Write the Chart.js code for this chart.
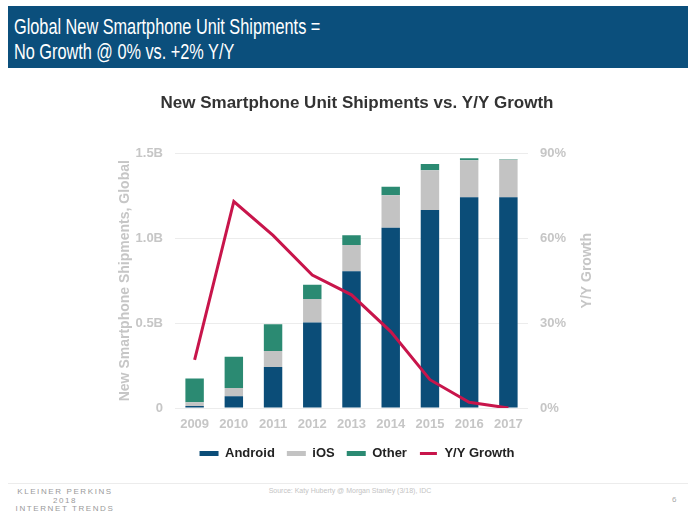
<!DOCTYPE html>
<html>
<head>
<meta charset="utf-8">
<script src="https://cdn.jsdelivr.net/npm/chart.js@4"></script>
<style>
  html, body { margin: 0; padding: 0; background: #fff; }
  body { width: 700px; height: 525px; position: relative; overflow: hidden; font-family: Arial, "Liberation Sans", sans-serif; }
  #banner { position: absolute; left: 8px; top: 6px; width: 680px; height: 62px; background: #0b4f7c; }
  #banner div { position: absolute; left: 6px; color: #fff; font-family: Arial, "Liberation Sans", sans-serif;
                font-size: 22px; line-height: 25px; white-space: nowrap; transform: scaleX(0.74); transform-origin: left center; }
  #wrap { position: absolute; left: 0; top: 80px; width: 700px; height: 390px; }
  #footline { position: absolute; left: 8px; top: 483px; width: 680px; height: 1px; background: #ececec; }
  .brand { position: absolute; color: #9a9a9a; font-size: 8px; letter-spacing: 1.6px; text-align: center; width: 110px; left: 10px; }
  #source { position: absolute; left: 0; width: 700px; top: 487px; text-align: center; color: #c4c4c4; font-size: 7px; }
  #page { position: absolute; left: 672px; top: 495px; color: #aaa; font-size: 8px; }
</style>
</head>
<body>
<div id="banner">
  <div style="top:8px">Global New Smartphone Unit Shipments =</div>
  <div style="top:33px">No Growth @ 0% vs. +2% Y/Y</div>
</div>
<div id="wrap"><canvas id="chart" width="700" height="390"></canvas></div>
<div id="footline"></div>
<div class="brand" style="top:487px">KLEINER PERKINS</div>
<div class="brand" style="top:496px">2018</div>
<div class="brand" style="top:504px">INTERNET TRENDS</div>
<div id="source">Source: Katy Huberty @ Morgan Stanley (3/18), IDC</div>
<div id="page">6</div>
<script>
// years on the x axis
const years = ['2009', '2010', '2011', '2012', '2013', '2014', '2015', '2016', '2017'];
// shipments in billions of units
const android = [0.012, 0.069, 0.241, 0.503, 0.805, 1.062, 1.166, 1.242, 1.242];
const ios = [0.022, 0.049, 0.095, 0.139, 0.156, 0.191, 0.235, 0.218, 0.220];
const other = [0.140, 0.184, 0.158, 0.084, 0.057, 0.050, 0.036, 0.011, 0.003];
// Y/Y growth in percent
const growth = [17, 73, 61, 47, 40, 27, 10, 2, 0];
// tick labels
const leftTicks = { 0: '0', 0.5: '0.5B', 1: '1.0B', 1.5: '1.5B' };

const axisGray = '#c6c6c6';
Chart.defaults.font.family = 'Arial, "Liberation Sans", sans-serif';

// right axis title reads bottom-to-top in the original
const rightTitle = {
    id: 'rightTitle',
    afterDraw(chart) {
        const y1 = chart.scales.y1;
        const ctx = chart.ctx;
        ctx.save();
        ctx.translate(y1.left + 59, (y1.top + y1.bottom) / 2 - 10);
        ctx.rotate(-Math.PI / 2);
        ctx.font = 'bold 14px Arial, "Liberation Sans", sans-serif';
        ctx.fillStyle = axisGray;
        ctx.textAlign = 'center';
        ctx.textBaseline = 'middle';
        ctx.fillText('Y/Y Growth', 0, 0);
        ctx.restore();
    }
};

const ctx = document.getElementById('chart').getContext('2d');
const chart = new Chart(ctx, {
    data: {
        labels: years,
        datasets: [
            { type: 'line', label: 'Y/Y Growth', data: growth, yAxisID: 'y1', order: 0,
              borderColor: '#c8154b', backgroundColor: '#c8154b', borderWidth: 3,
              pointRadius: 0, tension: 0 },
            { type: 'bar', label: 'Android', data: android, yAxisID: 'y', order: 1, backgroundColor: '#0b4d78' },
            { type: 'bar', label: 'iOS', data: ios, yAxisID: 'y', order: 1, backgroundColor: '#c3c3c3' },
            { type: 'bar', label: 'Other', data: other, yAxisID: 'y', order: 1, backgroundColor: '#2b8a72' }
        ]
    },
    options: {
        responsive: false,
        animation: false,
        datasets: { bar: { categoryPercentage: 1, barPercentage: 0.47 } },
        layout: { padding: { left: 14, right: 0, top: 0, bottom: 0 } },
        plugins: {
            tooltip: { enabled: false },
            title: {
                display: true,
                text: 'New Smartphone Unit Shipments vs. Y/Y Growth',
                color: '#333',
                font: { size: 17, weight: 'bold' },
                padding: { top: 13, bottom: 40 }
            },
            legend: {
                position: 'bottom',
                labels: {
                    color: '#222',
                    font: { size: 13, weight: 'bold' },
                    boxWidth: 19,
                    boxHeight: 5,
                    padding: 12,
                    sort: (a, b) => {
                        const rank = i => (i === 0 ? 99 : i);
                        return rank(a.datasetIndex) - rank(b.datasetIndex);
                    },
                    generateLabels(chart) {
                        const items = Chart.defaults.plugins.legend.labels.generateLabels(chart);
                        items.forEach(it => {
                            if (it.datasetIndex === 0) {
                                it.strokeStyle = '#fff';
                                it.lineWidth = 2;
                            } else {
                                it.lineWidth = 0;
                            }
                        });
                        return items;
                    }
                }
            }
        },
        scales: {
            x: {
                stacked: true,
                grid: { display: false, drawTicks: false },
                border: { display: false },
                ticks: { color: axisGray, font: { size: 13, weight: 'bold' }, padding: 9 },
                afterFit(scale) { scale.height = 27; }
            },
            y: {
                position: 'left',
                stacked: true,
                min: 0,
                max: 1.5,
                ticks: {
                    stepSize: 0.5,
                    color: axisGray,
                    font: { size: 13, weight: 'bold' },
                    padding: 12,
                    callback: v => leftTicks[v] ?? ''
                },
                grid: { color: '#ececec', drawTicks: false },
                border: { display: false },
                title: {
                    display: true,
                    text: 'New Smartphone Shipments, Global',
                    color: axisGray,
                    font: { size: 14, weight: 'bold' },
                    padding: { top: 103 }
                },
                afterFit(scale) { scale.width = 161; }
            },
            y1: {
                position: 'right',
                min: 0,
                max: 90,
                ticks: {
                    stepSize: 30,
                    color: axisGray,
                    font: { size: 13, weight: 'bold' },
                    padding: 12,
                    callback: v => v + '%'
                },
                grid: { display: false, drawTicks: false },
                border: { display: false },
                afterFit(scale) { scale.width = 172; }
            }
        }
    },
    plugins: [rightTitle]
});
</script>
</body>
</html>
